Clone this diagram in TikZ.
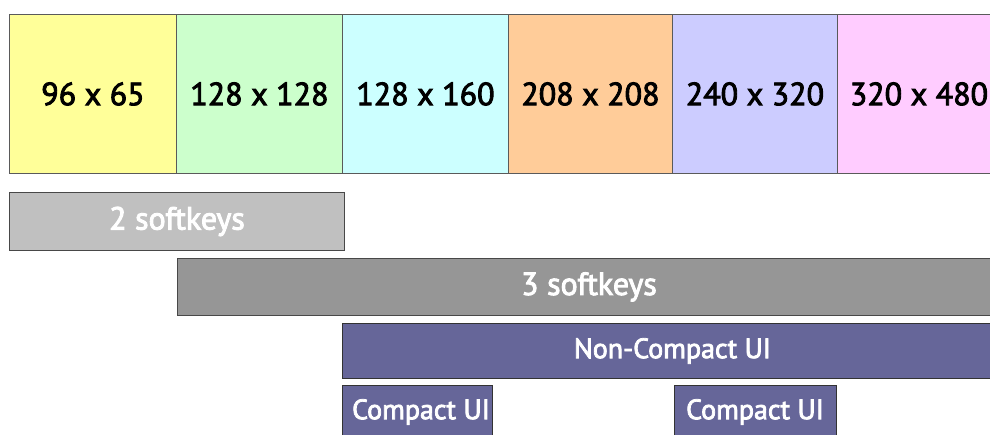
\documentclass[tikz,border=0pt]{standalone}
\usepackage{fontspec}
\setmainfont{PT Sans}[FakeBold=2.8]
\definecolor{cyel}{HTML}{FFFF99}
\definecolor{cgrn}{HTML}{CCFFCC}
\definecolor{ccyn}{HTML}{CCFFFF}
\definecolor{corg}{HTML}{FFCC99}
\definecolor{clav}{HTML}{CCCCFF}
\definecolor{cpnk}{HTML}{FFCCFF}
\definecolor{cgrl}{HTML}{C0C0C0}
\definecolor{cgrd}{HTML}{969696}
\definecolor{cpur}{HTML}{666699}
\definecolor{cbrd}{HTML}{5A5A5A}
\begin{document}
\begin{tikzpicture}[x=1pt,y=-1pt,
  cell/.style={draw=cbrd,line width=0.9pt,inner sep=0pt,anchor=north west,font=\fontsize{32}{36}\selectfont,text=black},
  bar/.style={draw=cbrd!80!black,line width=0.9pt,inner sep=0pt,anchor=north west,text=white,font=\fontsize{32}{34}\selectfont},
  uibar/.style={bar,fill=cpur,draw=black!80},
  uitext/.style={text=white,font=\fontsize{28}{30}\selectfont}]
\path[use as bounding box] (0,0) rectangle (990,434);
\clip (0,0) rectangle (990,434);
\fill[white] (0,0) rectangle (990,434);
\node[cell,fill=cyel,minimum width=167pt,minimum height=159pt] (c1) at (9,14) {96 x 65};
\node[cell,fill=cgrn,minimum width=166pt,minimum height=159pt] (c2) at (176,14) {128 x 128};
\node[cell,fill=ccyn,minimum width=166pt,minimum height=159pt] (c3) at (342,14) {128 x 160};
\node[cell,fill=corg,minimum width=164pt,minimum height=159pt] (c4) at (508,14) {208 x 208};
\node[cell,fill=clav,minimum width=165pt,minimum height=159pt] (c5) at (672,14) {240 x 320};
\node[cell,fill=cpnk,minimum width=163pt,minimum height=159pt] (c6) at (837,14) {320 x 480};
\node[bar,fill=cgrl,minimum width=335pt,minimum height=58pt] (s2) at (9,192) {2 softkeys};
\node[bar,fill=cgrd,minimum width=823pt,minimum height=57pt] (s3) at (177,258) {3 softkeys};
\node[uibar,minimum width=660pt,minimum height=55pt,font=\fontsize{28}{30}\selectfont] (nc) at (342,323) {Non-Compact UI};
\node[uibar,minimum width=150pt,minimum height=60pt] (cu1) at (342,385) {};
\node[uitext] (t1) at (421,412) {Compact UI};
\node[uibar,minimum width=162pt,minimum height=60pt] (cu2) at (674,385) {};
\node[uitext] (t2) at (755,412) {Compact UI};
\end{tikzpicture}
\end{document}
